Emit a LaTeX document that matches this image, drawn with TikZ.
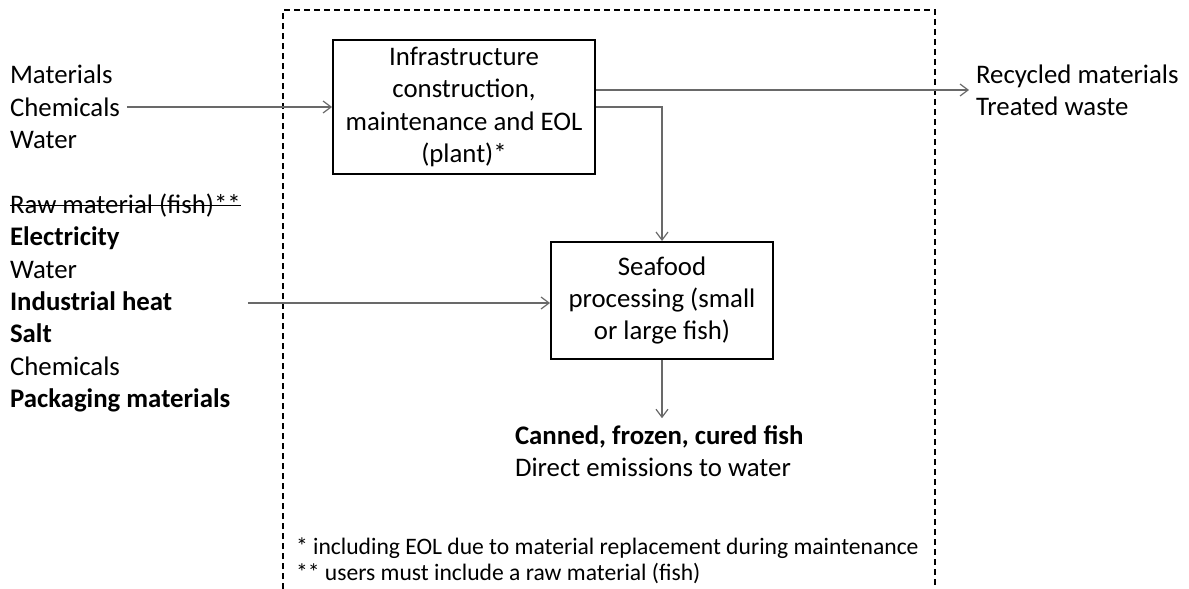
\documentclass[tikz,border=0pt]{standalone}
\usepackage{fontspec}
\setmainfont{Carlito}
\usetikzlibrary{arrows.meta}
\definecolor{flow}{RGB}{105,105,105}
\newcommand{\struck}[1]{\setbox0\hbox{#1}\rlap{\rule[0.27em]{\wd0}{0.6pt}}\box0}

\begin{document}
\begin{tikzpicture}[x=0.5pt, y=-0.5pt,
  every node/.style={font=\fontsize{13.4}{16.2}\selectfont},
  process/.style={draw, line width=1pt, align=center},
  items/.style={align=left, anchor=west},
  arrow/.style={-{Straight Barb[length=4pt,width=6pt]}, draw=flow, line width=0.6pt},
  boundary/.style={dash pattern=on 3pt off 2pt, line width=0.6pt}
]
\useasboundingbox (0,0) rectangle (1189,589);

% system boundary, open at the bottom
\draw[boundary] (283,589) -- (283,10) -- (935,10) -- (935,589);

\node[process, minimum width=131pt, minimum height=65pt] (infra) at (464,107) {Infrastructure\\construction,\\maintenance and EOL\\(plant)*};
\node[process, minimum width=111pt, minimum height=58.5pt] (seafood) at (662,300.5) {Seafood\\processing (small\\or large fish)};

\node[items] (inplant) at (3,107) {Materials\\Chemicals\\Water};
\node[items] (inproc) at (3,303) {\struck{Raw material (fish)**}\\\textbf{Electricity}\\Water\\\textbf{Industrial heat}\\\textbf{Salt}\\Chemicals\\\textbf{Packaging materials}};
\node[items] (outplant) at (969,90) {Recycled materials\\Treated waste};
\node[items] (outproc) at (508,451) {\textbf{Canned, frozen, cured fish}\\Direct emissions to water};
\node[items, font=\fontsize{11.8}{13}\selectfont] (notes) at (289,561) {* including EOL due to material replacement during maintenance\\** users must include a raw material (fish)};

\draw[arrow] (inplant.east) -- (inplant.east -| infra.west);
\draw[arrow] (inproc.east) -- (inproc.east -| seafood.west);
\draw[arrow] (infra.east |- outplant.west) -- (outplant.west);
\draw[arrow] (infra.east) -| (seafood.north);
\draw[arrow] (seafood.south) -- (seafood.south |- outproc.north);
\end{tikzpicture}
\end{document}
